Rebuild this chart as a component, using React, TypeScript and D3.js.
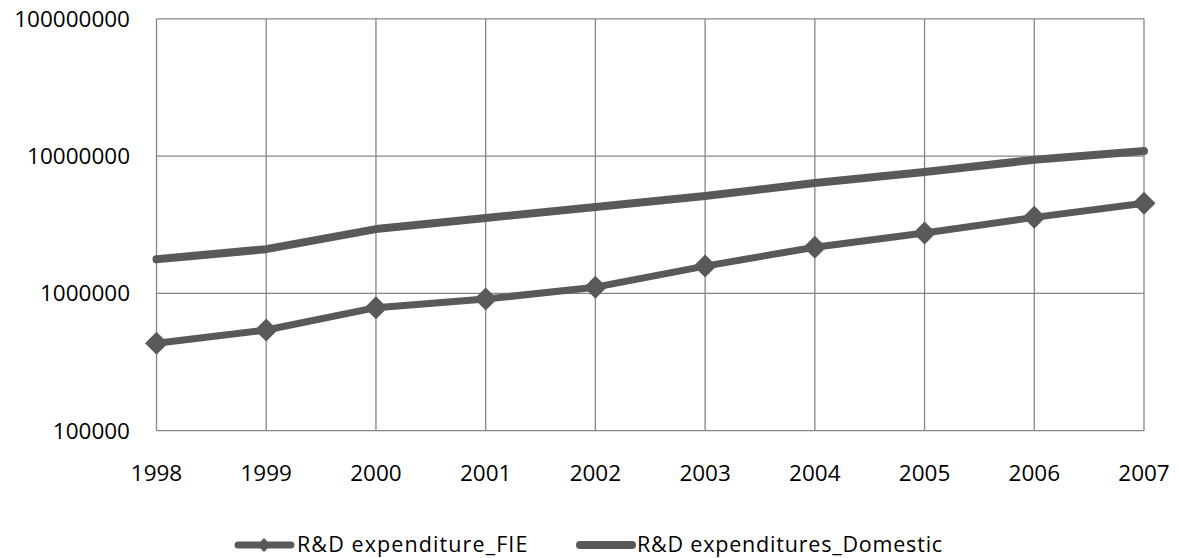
import React from "react";
import * as d3 from "d3";

const years = ["1998", "1999", "2000", "2001", "2002", "2003", "2004", "2005", "2006", "2007"];
const fieValues = [433000, 541000, 787000, 910000, 1110000, 1580000, 2170000, 2750000, 3580000, 4530000];
const domesticValues = [1770000, 2100000, 2940000, 3540000, 4260000, 5120000, 6370000, 7650000, 9400000, 10900000];
const yTicks = [100000, 1000000, 10000000, 100000000];
const seriesNames = ["R&D expenditure_FIE", "R&D expenditures_Domestic"];

const W = 1178, H = 558;
const left = 156.5, right = 1144, top = 18.8, bottom = 430.7;
const lineColor = "#595959";
const gridColor = "#868686";
const font = "'Open Sans', sans-serif";

export default function App() {
  const x = d3.scalePoint<string>().domain(years).range([left, right]);
  const y = d3.scaleLog().domain([1e5, 1e8]).range([bottom, top]);
  const line = d3.line<number>().x((_, i) => x(years[i])!).y((d) => y(d));
  const diamond = (cx: number, cy: number, r: number) =>
    `M${cx},${cy - r}L${cx + r},${cy}L${cx},${cy + r}L${cx - r},${cy}Z`;

  return (
    <svg width={W} height={H} style={{ position: "absolute", left: 0, top: 0 }}>
      <rect width={W} height={H} fill="#fff" />
      {yTicks.map((t) => (
        <line key={t} x1={left} x2={right} y1={y(t)} y2={y(t)} stroke={gridColor} strokeWidth={1.3} />
      ))}
      {years.map((yr) => (
        <line key={yr} x1={x(yr)} x2={x(yr)} y1={top} y2={bottom} stroke={gridColor} strokeWidth={1.3} />
      ))}
      {yTicks.map((t) => (
        <text key={t} x={130} y={y(t)} dy="0.35em" textAnchor="end" fontFamily={font} fontSize={22.5} fill="#000">
          {t}
        </text>
      ))}
      {years.map((yr) => (
        <text key={yr} x={x(yr)} y={481} textAnchor="middle" fontFamily={font} fontSize={22.5} fill="#000">
          {yr}
        </text>
      ))}
      <path d={line(domesticValues)!} fill="none" stroke={lineColor} strokeWidth={8} strokeLinecap="round" strokeLinejoin="round" />
      <path d={line(fieValues)!} fill="none" stroke={lineColor} strokeWidth={7} strokeLinecap="round" strokeLinejoin="round" />
      {fieValues.map((v, i) => (
        <path key={i} d={diamond(x(years[i])!, y(v), 11.5)} fill={lineColor} />
      ))}
      {/* legend */}
      <line x1={238} x2={291} y1={545} y2={545} stroke={lineColor} strokeWidth={7} strokeLinecap="round" />
      <path d={diamond(264, 545, 7)} fill={lineColor} />
      <text x={297} y={552} fontFamily={font} fontSize={21.5} letterSpacing={1.1} fill="#000">{seriesNames[0]}</text>
      <line x1={580} x2={632} y1={545} y2={545} stroke={lineColor} strokeWidth={8} strokeLinecap="round" />
      <text x={637} y={552} fontFamily={font} fontSize={21.5} letterSpacing={0.8} fill="#000">{seriesNames[1]}</text>
    </svg>
  );
}
